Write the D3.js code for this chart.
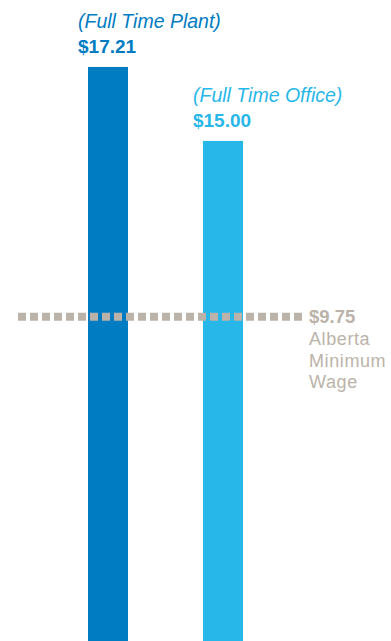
<!DOCTYPE html>
<html>
<head>
<meta charset="utf-8">
<script src="https://cdn.jsdelivr.net/npm/d3@7"></script>
<style>
  body { margin: 0; background: #fff; }
  svg { display: block; }
  text { font-family: "Liberation Sans", Arial, Helvetica, sans-serif; }
</style>
</head>
<body>
<div id="chart"></div>
<script>
// data
var categories = ["(Full Time Plant)", "(Full Time Office)"];
var wages = [17.21, 15.00];
var barColors = ["#007cc2", "#28b7e9"];
var minWage = 9.75;
var minWageLabel = ["Alberta", "Minimum", "Wage"];

var width = 391, height = 641;
var gray = "#bbb3a9";

var svg = d3.select("#chart").append("svg")
    .attr("width", width)
    .attr("height", height);

var x = d3.scaleBand()
    .domain(categories)
    .range([88, 243])
    .paddingInner(0.652)
    .paddingOuter(0);

var y = d3.scaleLinear()
    .domain([0, 19.21])
    .range([643, 0]);

var fmt = d3.format("$.2f");

// bars
svg.selectAll("rect.bar")
    .data(categories)
    .enter().append("rect")
    .attr("class", "bar")
    .attr("x", function(d) { return x(d); })
    .attr("width", x.bandwidth())
    .attr("y", function(d, i) { return y(wages[i]); })
    .attr("height", function(d, i) { return y(0) - y(wages[i]); })
    .attr("fill", function(d, i) { return barColors[i]; });

// labels above the bars
svg.selectAll("text.cat")
    .data(categories)
    .enter().append("text")
    .attr("class", "cat")
    .attr("x", function(d) { return x(d) - 10; })
    .attr("y", function(d, i) { return y(wages[i]) - 38.5; })
    .attr("font-size", 19.5)
    .attr("font-style", "italic")
    .attr("fill", function(d, i) { return barColors[i]; })
    .text(function(d) { return d; });

svg.selectAll("text.val")
    .data(categories)
    .enter().append("text")
    .attr("class", "val")
    .attr("x", function(d) { return x(d) - 10; })
    .attr("y", function(d, i) { return y(wages[i]) - 14; })
    .attr("font-size", 19)
    .attr("font-weight", "bold")
    .attr("fill", function(d, i) { return barColors[i]; })
    .text(function(d, i) { return fmt(wages[i]); });

// minimum wage dotted line, drawn over the bars
svg.append("line")
    .attr("x1", 18)
    .attr("x2", 302)
    .attr("y1", y(minWage))
    .attr("y2", y(minWage))
    .attr("stroke", gray)
    .attr("stroke-width", 8)
    .attr("stroke-dasharray", "8 4");

svg.append("text")
    .attr("x", 309)
    .attr("y", y(minWage) + 6.5)
    .attr("font-size", 18.5)
    .attr("font-weight", "bold")
    .attr("fill", gray)
    .text(fmt(minWage));

svg.selectAll("text.mw")
    .data(minWageLabel)
    .enter().append("text")
    .attr("class", "mw")
    .attr("x", 309)
    .attr("y", function(d, i) { return y(minWage) + 28.5 + i * 21.5; })
    .attr("font-size", 18)
    .attr("letter-spacing", 0.6)
    .attr("fill", gray)
    .text(function(d) { return d; });
</script>
</body>
</html>
